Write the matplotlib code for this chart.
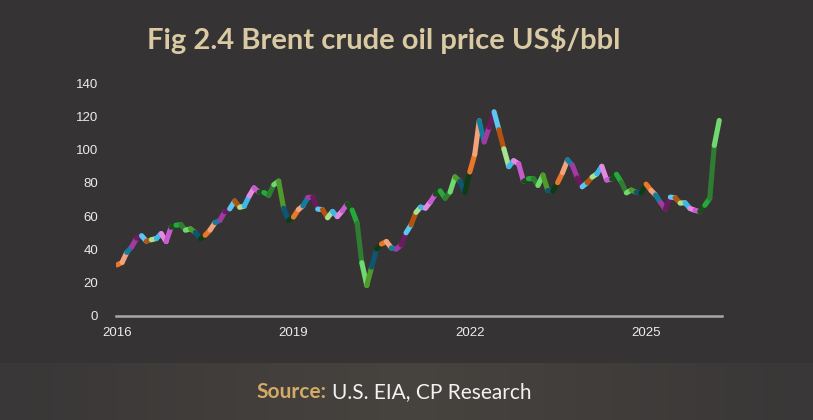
import numpy as np
import pandas as pd
import matplotlib
matplotlib.use("Agg")
import matplotlib.pyplot as plt
import matplotlib.dates as mdates
from matplotlib.collections import LineCollection
from matplotlib.colors import LinearSegmentedColormap

# ============================================================
# DATA  (monthly Brent, US$/bbl, Jan 2016 - Apr 2026)
# ============================================================

p2016 = [30.70, 32.18, 38.21, 41.58, 46.74, 48.25, 44.95, 45.84, 46.57, 49.52, 44.73, 53.31]
p2017 = [54.58, 54.87, 51.59, 52.31, 50.33, 46.37, 48.48, 51.70, 56.15, 57.51, 62.71, 64.37]
p2018 = [69.08, 65.32, 66.02, 72.11, 76.98, 74.41, 74.25, 72.53, 78.89, 81.03, 64.75, 57.36]
p2019 = [59.41, 63.96, 66.14, 71.23, 71.32, 64.22, 63.92, 59.04, 62.83, 59.71, 63.21, 67.31]
p2020 = [63.65, 55.66, 32.01, 18.38, 29.38, 40.27, 43.24, 44.74, 40.91, 40.19, 42.69, 49.99]
p2021 = [54.77, 62.28, 65.41, 64.81, 68.53, 73.16, 75.17, 70.75, 74.49, 83.54, 81.05, 74.17]
p2022 = [86.51, 97.13, 117.25, 104.58, 113.34, 122.71, 111.93, 100.45, 89.76, 93.33, 91.42, 80.92]
p2023 = [82.50, 82.59, 78.43, 84.64, 75.47, 74.84, 80.11, 86.15, 93.72, 90.60, 82.94, 77.63]
p2024 = [80.12, 83.48, 85.41, 89.94, 81.75, 82.25, 85.15, 80.36, 74.02, 75.63, 74.35, 73.86]
p2025 = [79.27, 75.44, 72.73, 68.13, 64.21, 71.44, 71.04, 67.87, 67.99, 64.60, 63.50, 62.70]
p2026 = [66.50, 70.70, 102.50, 117.50]

price = p2016 + p2017 + p2018 + p2019 + p2020 + p2021 + p2022 + p2023 + p2024 + p2025 + p2026
dates = pd.date_range("2016-01-01", periods=len(price), freq="MS")

y_ticks = [0, 20, 40, 60, 80, 100, 120, 140]
x_tick_years = ["2016", "2019", "2022", "2025"]

title = "Fig 2.4 Brent crude oil price US$/bbl"
source_bold = "Source:"
source_rest = "U.S. EIA, CP Research"

# ============================================================
# STYLE
# ============================================================

bg = "#353334"
seg_palette = [
    "#e8762b", "#2e7d32", "#3fb6e8", "#a33aa3", "#0d5673", "#1b4d1b",
    "#b4520f", "#f2a37c", "#6fd86f", "#e58ae0", "#6a1a5e", "#0e3b14",
    "#27a83c", "#a6e391", "#127d9e", "#4f9a2a", "#c85ad0", "#5ac8f0",
]

plt.rcParams["font.family"] = ["Liberation Sans", "DejaVu Sans"]

fig = plt.figure(figsize=(8.13, 4.20), dpi=100, facecolor=bg)

# footer band with soft horizontal gradient
band = fig.add_axes([0, 0, 1, 57 / 420])
band.set_axis_off()
grad = LinearSegmentedColormap.from_list("band", ["#393737", "#47433f", "#393737"])
band.imshow(np.linspace(0, 1, 256)[None, :], aspect="auto", cmap=grad,
            extent=[0, 1, 0, 1])

ax = fig.add_axes([116 / 813, 1 - 316 / 420, 606 / 813, 233 / 420])
ax.set_facecolor(bg)

# ============================================================
# PLOT
# ============================================================

xs = mdates.date2num(dates)
pts = np.column_stack([xs, price])
segs = np.stack([pts[:-1], pts[1:]], axis=1)
cols = [seg_palette[(i * 7) % len(seg_palette)] for i in range(len(segs))]
lc = LineCollection(segs, colors=cols, linewidths=3.7, capstyle="round",
                    joinstyle="round")
ax.add_collection(lc)

ax.set_xlim(mdates.date2num(pd.Timestamp("2015-12-25")),
            mdates.date2num(pd.Timestamp("2026-04-18")))
ax.set_ylim(0, 140)
ax.set_yticks(y_ticks)
ax.set_xticks([mdates.date2num(pd.Timestamp(y + "-01-01")) for y in x_tick_years])
ax.set_xticklabels(x_tick_years)

for s in ["top", "right", "left"]:
    ax.spines[s].set_visible(False)
ax.spines["bottom"].set_color("#a8a8a8")
ax.spines["bottom"].set_linewidth(1.8)
ax.tick_params(axis="both", length=0, labelsize=9.5, colors="#ececec")
ax.tick_params(axis="y", pad=13)
ax.tick_params(axis="x", pad=8)

fig.text(384 / 813, 1 - 48.5 / 420, title, ha="center", va="baseline",
         fontsize=21, fontweight="bold", color="#d9caa3",
         family=["Lato", "DejaVu Sans"])

fig.text(326 / 813, 1 - 398.5 / 420, source_bold, ha="right", va="baseline",
         fontsize=15, fontweight="bold", color="#d4aa66",
         family=["Lato", "DejaVu Sans"])
fig.text(332 / 813, 1 - 398.5 / 420, source_rest, ha="left", va="baseline",
         fontsize=15, color="#f2f2f2", family=["Lato", "DejaVu Sans"])

fig.savefig("out.png", dpi=100, facecolor=bg)
